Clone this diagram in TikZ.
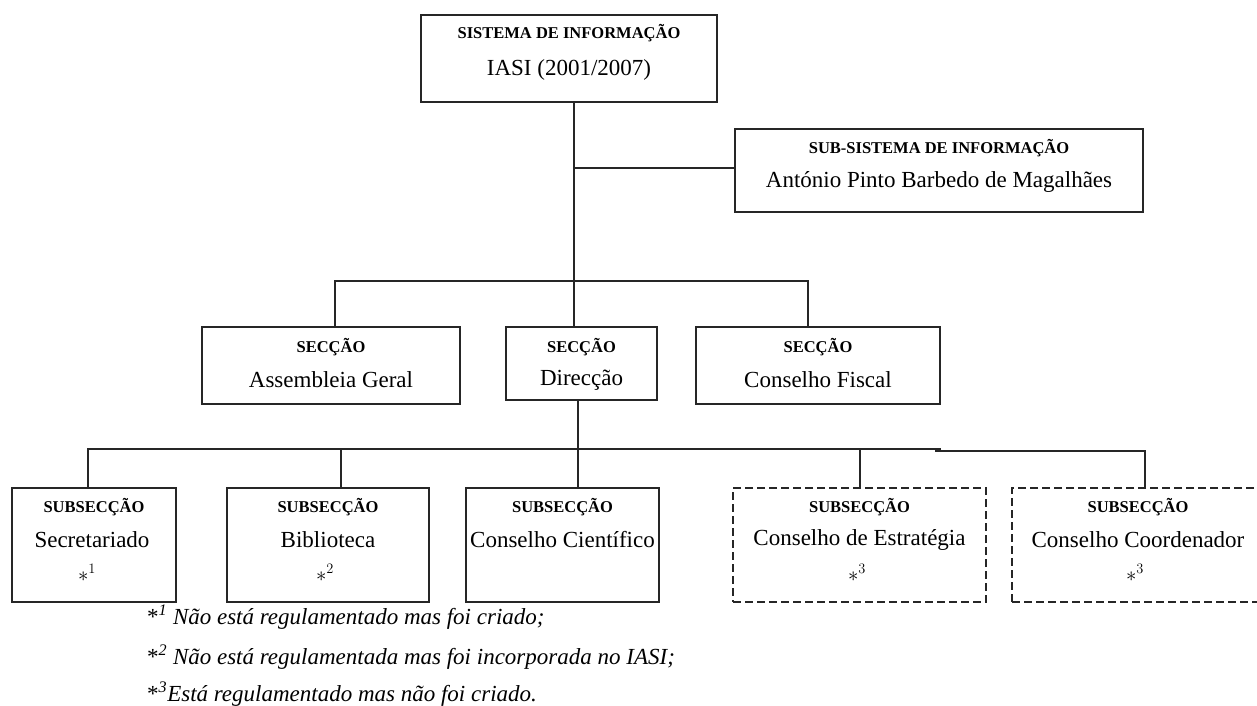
\documentclass[tikz,border=0pt]{standalone}
\usepackage{fontspec}
\setmainfont{Liberation Serif}
\begin{document}
\begin{tikzpicture}[x=1pt,y=-1pt,
  boxs/.style={draw=black!85, line width=1.2pt, inner sep=0pt},
  dashbox/.style={boxs, dash pattern=on 8pt off 4pt},
  conn/.style={draw=black!85, line width=1.2pt},
  ttl/.style={font=\fontsize{16.5}{18}\selectfont\bfseries, inner sep=0pt},
  nm/.style={font=\fontsize{23}{26}\selectfont, inner sep=0pt},
  star/.style={font=\fontsize{22}{24}\selectfont, inner sep=0pt},
  fnote/.style={font=\fontsize{23}{26}\selectfont, inner sep=0pt, anchor=west}
]
\useasboundingbox (0,0) rectangle (1257,706);
\clip (0,0) rectangle (1257,706);

% boxes
\node[boxs, minimum width=296pt, minimum height=87pt] (top) at (569,58.5) {};
\node[boxs, minimum width=408pt, minimum height=83pt] (sub) at (939,170.5) {};
\node[boxs, minimum width=258pt, minimum height=77pt] (ag) at (331,365.5) {};
\node[boxs, minimum width=151pt, minimum height=73pt] (dir) at (581.5,363.5) {};
\node[boxs, minimum width=244pt, minimum height=77pt] (cf) at (818,365.5) {};
\node[boxs, minimum width=164pt, minimum height=114pt] (sec) at (94,545) {};
\node[boxs, minimum width=202pt, minimum height=114pt] (bib) at (328,545) {};
\node[boxs, minimum width=193pt, minimum height=114pt] (cc) at (562.5,545) {};
\node[dashbox, minimum width=253pt, minimum height=114pt] (ce) at (859.5,545) {};
\node[dashbox, minimum width=250pt, minimum height=114pt] (co) at (1137,545) {};

% texts
\node[ttl] (top-t) at (569,33) {SISTEMA DE INFORMAÇÃO};
\node[nm] (top-n) at (569,70) {IASI (2001/2007)};
\node[ttl] (sub-t) at (939,148) {SUB-SISTEMA DE INFORMAÇÃO};
\node[nm] (sub-n) at (939,182) {António Pinto Barbedo de Magalhães};
\node[ttl] (ag-t) at (331,347) {SECÇÃO};
\node[nm] (ag-n) at (331,380) {Assembleia Geral};
\node[ttl] (dir-t) at (581.5,347) {SECÇÃO};
\node[nm] (dir-n) at (581.5,380) {Direcção};
\node[ttl] (cf-t) at (818,347) {SECÇÃO};
\node[nm] (cf-n) at (818,380) {Conselho Fiscal};
\node[ttl] (sec-t) at (94,507) {SUBSECÇÃO};
\node[nm] (sec-n) at (92,540) {Secretariado};
\node[star] (sec-s) at (87,573) {$*^{1}$};
\node[ttl] (bib-t) at (328,507) {SUBSECÇÃO};
\node[nm] (bib-n) at (328,540) {Biblioteca};
\node[star] (bib-s) at (325,573) {$*^{2}$};
\node[ttl] (cc-t) at (562.5,507) {SUBSECÇÃO};
\node[nm] (cc-n) at (562.5,540) {Conselho Científico};
\node[ttl] (ce-t) at (859.5,507) {SUBSECÇÃO};
\node[nm] (ce-n) at (859.5,540) {Conselho de Estratégia};
\node[star] (ce-s) at (857,573) {$*^{3}$};
\node[ttl] (co-t) at (1138,507) {SUBSECÇÃO};
\node[nm] (co-n) at (1138,540) {Conselho Coordenador};
\node[star] (co-s) at (1135,573) {$*^{3}$};

% footnotes
\node[fnote] (fn1) at (147,617) {*\textsuperscript{\itshape 1} \itshape Não está regulamentado mas foi criado;};
\node[fnote] (fn2) at (147,657) {*\textsuperscript{\itshape 2} \itshape Não está regulamentada mas foi incorporada no IASI;};
\node[fnote] (fn3) at (147,694) {*\textsuperscript{\itshape 3}\itshape Está regulamentado mas não foi criado.};

% connectors
\coordinate (j1) at (574,168);
\coordinate (j2) at (574,281);
\coordinate (bL) at (335,281);
\coordinate (bR) at (808,281);
\coordinate (k) at (578,449);
\coordinate (c1) at (88,449);
\coordinate (c2) at (341,449);
\coordinate (c4) at (860,449);
\coordinate (g1) at (941,449);
\coordinate (g2) at (935,451);
\coordinate (c5) at (1145,451);

\draw[conn] (top.south -| j1) -- (j2);
\draw[conn] (j1) -- (j1 -| sub.west);
\draw[conn] (ag.north -| bL) -- (bL) -- (bR) -- (cf.north -| bR);
\draw[conn] (j2) -- (dir.north -| j2);
\draw[conn] (dir.south -| k) -- (cc.north -| k);
\draw[conn] (sec.north -| c1) -- (c1) -- (g1);
\draw[conn] (g2) -- (c5) -- (co.north -| c5);
\draw[conn] (c2) -- (bib.north -| c2);
\draw[conn] (c4) -- (ce.north -| c4);
\end{tikzpicture}
\end{document}
